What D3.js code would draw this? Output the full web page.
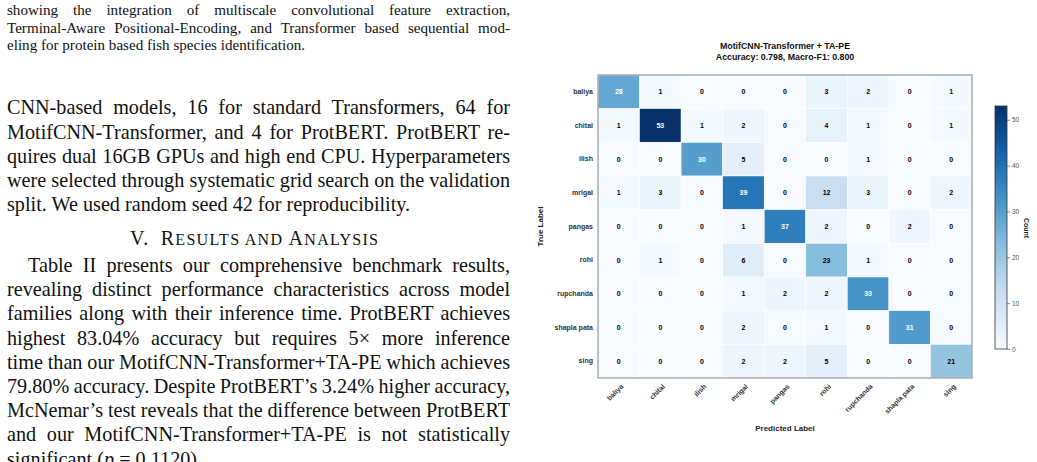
<!DOCTYPE html>
<html>
<head>
<meta charset="utf-8">
<script src="https://cdn.jsdelivr.net/npm/d3@7"></script>
<style>
  html, body { margin: 0; padding: 0; background: #fff; }
  svg { display: block; }
</style>
</head>
<body>
<div id="page"></div>
<script>
// ---- chart data ----
const classes = ['baliya', 'chital', 'ilish', 'mrigal', 'pangas', 'rohi', 'rupchanda', 'shapla pata', 'sing'];
const counts = [
  [28, 1, 0, 0, 0, 3, 2, 0, 1],
  [1, 53, 1, 2, 0, 4, 1, 0, 1],
  [0, 0, 30, 5, 0, 0, 1, 0, 0],
  [1, 3, 0, 39, 0, 12, 3, 0, 2],
  [0, 0, 0, 1, 37, 2, 0, 2, 0],
  [0, 1, 0, 6, 0, 23, 1, 0, 0],
  [0, 0, 0, 1, 2, 2, 33, 0, 0],
  [0, 0, 0, 2, 0, 1, 0, 31, 0],
  [0, 0, 0, 2, 2, 5, 0, 0, 21]
];
const colorTicks = [0, 10, 20, 30, 40, 50];
const titleLines = ['MotifCNN-Transformer + TA-PE', 'Accuracy: 0.798, Macro-F1: 0.800'];

// ---- page text ----
const captionLines = [
  'showing the integration of multiscale convolutional feature extraction,',
  'Terminal-Aware Positional-Encoding, and Transformer based sequential mod-',
  'eling for protein based fish species identification.'
];
const setupLines = [
  'CNN-based models, 16 for standard Transformers, 64 for',
  'MotifCNN-Transformer, and 4 for ProtBERT. ProtBERT re-',
  'quires dual 16GB GPUs and high end CPU. Hyperparameters',
  'were selected through systematic grid search on the validation',
  'split. We used random seed 42 for reproducibility.'
];
const resultLines = [
  'Table II presents our comprehensive benchmark results,',
  'revealing distinct performance characteristics across model',
  'families along with their inference time. ProtBERT achieves',
  'highest 83.04% accuracy but requires 5\u00d7 more inference',
  'time than our MotifCNN-Transformer+TA-PE which achieves',
  '79.80% accuracy. Despite ProtBERT\u2019s 3.24% higher accuracy,',
  'McNemar\u2019s test reveals that the difference between ProtBERT',
  'and our MotifCNN-Transformer+TA-PE is not statistically'
];
const lastLineParts = ['significant (', 'p', ' = 0.1120).'];

const W = 1037, H = 462;
const svg = d3.select('#page').append('svg')
  .attr('width', W)
  .attr('height', H);
svg.append('rect').attr('width', W).attr('height', H).attr('fill', '#fff');

// ---------- left column text ----------
const colLeft = 7, colRight = 510;
const serif = "'Liberation Serif', 'Times New Roman', serif";
const textG = svg.append('g').attr('font-family', serif).attr('fill', '#111');

function drawParagraph(lines, y0, lead, size, indent, justifyLast) {
  lines.forEach((t, i) => {
    const x = colLeft + (i === 0 ? indent : 0);
    const el = textG.append('text')
      .attr('x', x)
      .attr('y', y0 + i * lead)
      .attr('font-size', size)
      .text(t);
    if (i < lines.length - 1 || justifyLast) {
      const w = el.node().getComputedTextLength();
      const n = (t.match(/ /g) || []).length;
      if (n > 0) el.style('word-spacing', ((colRight - x - w) / n) + 'px');
    }
  });
}

drawParagraph(captionLines, 15, 17.5, 15.1, 0, false);
drawParagraph(setupLines, 114.3, 24.2, 20.2, 0, false);

// section heading in small caps
const heading = textG.append('text')
  .attr('x', 254)
  .attr('y', 245)
  .attr('text-anchor', 'middle')
  .attr('font-size', 20);
heading.append('tspan').text('V.\u2002R');
heading.append('tspan').attr('font-size', 16).text('ESULTS AND ');
heading.append('tspan').text('A');
heading.append('tspan').attr('font-size', 16).text('NALYSIS');
heading.attr('textLength', 248).attr('lengthAdjust', 'spacing');

drawParagraph(resultLines, 272, 24.2, 20.2, 21, true);

// last line is cut by the bottom edge, as in the page
const last = textG.append('text')
  .attr('x', colLeft)
  .attr('y', 272 + 8 * 24.2)
  .attr('font-size', 20.2);
last.append('tspan').text(lastLineParts[0]);
last.append('tspan').attr('font-style', 'italic').text(lastLineParts[1]);
last.append('tspan').text(lastLineParts[2]);

// ---------- confusion matrix ----------
const sans = "'Liberation Sans', Arial, Helvetica, sans-serif";
const chart = svg.append('g').attr('font-family', sans);

const maxCount = d3.max(counts.flat());
const x = d3.scaleBand().domain(classes).range([598, 972]);
const y = d3.scaleBand().domain(classes).range([75, 378]);
const color = d3.scaleSequential(d3.interpolateBlues).domain([0, maxCount]);

// text colour the way seaborn picks it: by luminance of the cell
function lum(c) {
  const rgb = d3.rgb(c);
  const f = (v) => {
    v /= 255;
    return v <= 0.03928 ? v / 12.92 : Math.pow((v + 0.055) / 1.055, 2.4);
  };
  return 0.2126 * f(rgb.r) + 0.7152 * f(rgb.g) + 0.0722 * f(rgb.b);
}

const cells = [];
counts.forEach((row, i) => row.forEach((v, j) => {
  cells.push({ truth: classes[i], pred: classes[j], value: v });
}));

chart.selectAll('rect.cell')
  .data(cells)
  .enter()
  .append('rect')
  .attr('class', 'cell')
  .attr('x', (d) => x(d.pred))
  .attr('y', (d) => y(d.truth))
  .attr('width', x.bandwidth())
  .attr('height', y.bandwidth())
  .attr('fill', (d) => color(d.value))
  .attr('stroke', '#fff')
  .attr('stroke-width', 0.5);

chart.selectAll('text.val')
  .data(cells)
  .enter()
  .append('text')
  .attr('class', 'val')
  .attr('x', (d) => x(d.pred) + x.bandwidth() / 2)
  .attr('y', (d) => y(d.truth) + y.bandwidth() / 2)
  .attr('dy', '0.35em')
  .attr('text-anchor', 'middle')
  .attr('font-size', 7)
  .attr('font-weight', 'bold')
  .attr('fill', (d) => (lum(color(d.value)) > 0.408 ? '#000' : '#fff'))
  .text((d) => d.value);

// frame
chart.append('rect')
  .attr('x', 598)
  .attr('y', 75)
  .attr('width', 972 - 598)
  .attr('height', 378 - 75)
  .attr('fill', 'none')
  .attr('stroke', '#aaa')
  .attr('stroke-width', 1.5);

// y axis (true label)
const yAxis = chart.append('g')
  .attr('transform', 'translate(598,0)')
  .call(d3.axisLeft(y).tickSize(0).tickPadding(5));
yAxis.select('.domain').remove();
yAxis.selectAll('text')
  .attr('font-family', sans)
  .attr('font-size', 7)
  .attr('font-weight', 'bold')
  .attr('fill', '#333');

// x axis (predicted label)
const xAxis = chart.append('g')
  .attr('transform', 'translate(0,378)')
  .call(d3.axisBottom(x).tickSize(0).tickPadding(0));
xAxis.select('.domain').remove();
xAxis.selectAll('text')
  .attr('font-family', sans)
  .attr('font-size', 7)
  .attr('font-weight', 'bold')
  .attr('fill', '#333')
  .attr('text-anchor', 'end')
  .attr('dy', null)
  .attr('y', 0)
  .attr('transform', 'translate(5,9)rotate(-45)');

// axis titles
chart.append('text')
  .attr('transform', 'translate(543,226.5)rotate(-90)')
  .attr('text-anchor', 'middle')
  .attr('font-size', 8)
  .attr('font-weight', 'bold')
  .attr('fill', '#222')
  .text('True Label');

chart.append('text')
  .attr('x', 785)
  .attr('y', 431)
  .attr('text-anchor', 'middle')
  .attr('font-size', 8)
  .attr('font-weight', 'bold')
  .attr('fill', '#222')
  .text('Predicted Label');

// title
chart.selectAll('text.title')
  .data(titleLines)
  .enter()
  .append('text')
  .attr('class', 'title')
  .attr('x', 785)
  .attr('y', (d, i) => 49 + i * 11)
  .attr('text-anchor', 'middle')
  .attr('font-size', 8.8)
  .attr('font-weight', 'bold')
  .attr('fill', '#111')
  .text((d) => d);

// ---------- colour bar ----------
const cbX = 995, cbW = 12;
const cy = d3.scaleLinear().domain([0, maxCount]).range([349, 106]);

const grad = svg.append('defs').append('linearGradient')
  .attr('id', 'blues')
  .attr('x1', 0).attr('y1', 1)
  .attr('x2', 0).attr('y2', 0);
d3.range(0, 1.0001, 0.05).forEach((t) => {
  grad.append('stop')
    .attr('offset', t)
    .attr('stop-color', color(t * maxCount));
});

chart.append('rect')
  .attr('x', cbX)
  .attr('y', cy(maxCount))
  .attr('width', cbW)
  .attr('height', cy(0) - cy(maxCount))
  .attr('fill', 'url(#blues)')
  .attr('stroke', '#333')
  .attr('stroke-width', 0.8);

const cAxis = chart.append('g')
  .attr('transform', `translate(${cbX + cbW},0)`)
  .call(d3.axisRight(cy).tickValues(colorTicks).tickSize(3).tickPadding(2));
cAxis.select('.domain').remove();
cAxis.selectAll('line').attr('stroke', '#444').attr('stroke-width', 0.6);
cAxis.selectAll('text')
  .attr('font-family', sans)
  .attr('font-size', 6.5)
  .attr('fill', '#555');

chart.append('text')
  .attr('transform', 'translate(1024,228)rotate(90)')
  .attr('text-anchor', 'middle')
  .attr('font-size', 7)
  .attr('font-weight', 'bold')
  .attr('fill', '#222')
  .text('Count');
</script>
</body>
</html>
